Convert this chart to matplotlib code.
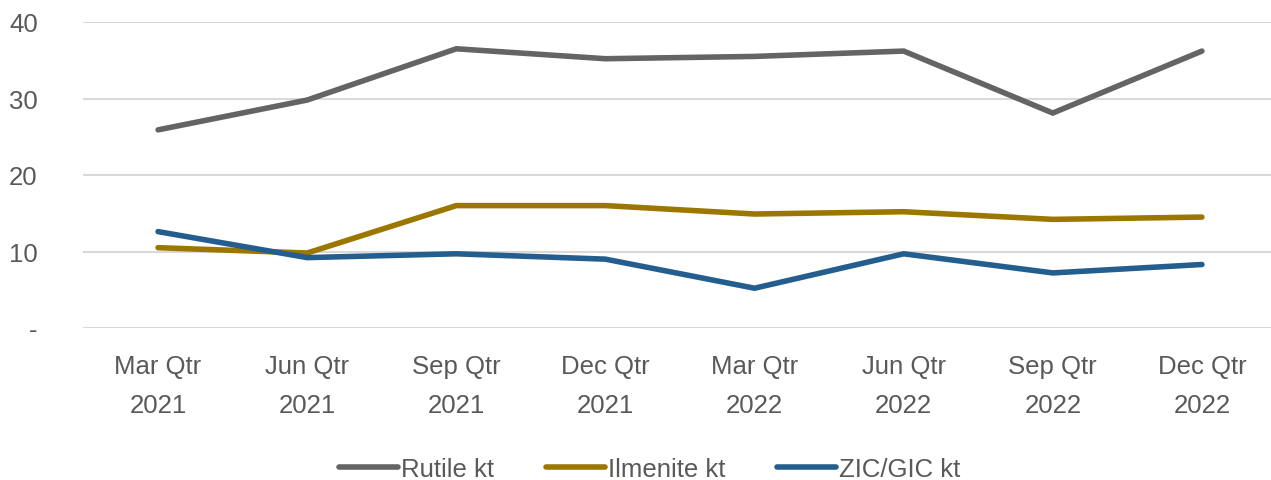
import matplotlib
matplotlib.use("Agg")
import matplotlib.pyplot as plt

categories = ["Mar Qtr\n2021", "Jun Qtr\n2021", "Sep Qtr\n2021", "Dec Qtr\n2021",
              "Mar Qtr\n2022", "Jun Qtr\n2022", "Sep Qtr\n2022", "Dec Qtr\n2022"]
rutile = [25.9, 29.8, 36.5, 35.2, 35.5, 36.2, 28.1, 36.2]
ilmenite = [10.5, 9.8, 16.0, 16.0, 14.9, 15.2, 14.2, 14.5]
zic_gic = [12.6, 9.2, 9.7, 9.0, 5.2, 9.7, 7.2, 8.3]
series_names = ["Rutile kt", "Ilmenite kt", "ZIC/GIC kt"]
colors = ["#646464", "#9C7700", "#245E8F"]
y_ticks = [0, 10, 20, 30, 40]
y_tick_labels = ["-", "10", "20", "30", "40"]

plt.rcParams['font.family'] = ['Liberation Sans', 'DejaVu Sans']
fig = plt.figure(figsize=(12.71, 4.81), dpi=100)
ax = fig.add_axes([83.5/1271, 152/481, (1276.5-83.5)/1271, 306/481])

x = list(range(len(categories)))
for vals, name, c in zip([rutile, ilmenite, zic_gic], series_names, colors):
    ax.plot(x, vals, color=c, lw=4, label=name, solid_capstyle='round', solid_joinstyle='miter', zorder=3)

ax.set_xlim(-0.5, len(categories) - 0.5)
ax.set_ylim(0, 40)
ax.set_yticks(y_ticks)
ax.set_yticklabels(y_tick_labels)
ax.set_xticks(x)
ax.set_xticklabels(categories, linespacing=1.75)
ax.grid(axis='y', color='#D9D9D9', lw=1.5, zorder=0)
ax.set_axisbelow(True)
for s in ax.spines.values():
    s.set_visible(False)
ax.tick_params(axis='both', length=0, labelsize=18.5, labelcolor='#595959')
ax.tick_params(axis='y', pad=33)
ax.tick_params(axis='x', pad=19)

handles, labels = ax.get_legend_handles_labels()
fig.legend(handles, labels, ncol=3, loc='center', bbox_to_anchor=(0.511, 11/481),
           frameon=False, fontsize=18.5, labelcolor='#595959', handlelength=2.3,
           handletextpad=0.12, columnspacing=2.0)

fig.savefig("out.png", dpi=100)
